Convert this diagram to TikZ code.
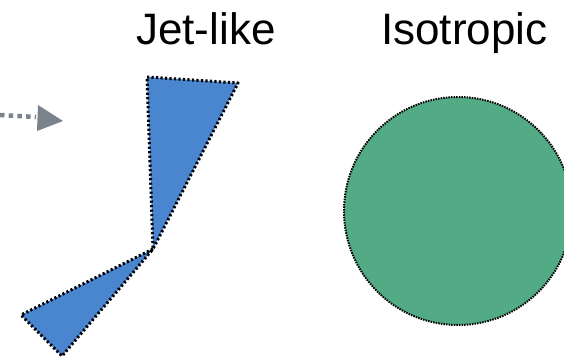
\documentclass[tikz,border=0pt]{standalone}
\usepackage{fontspec}
\setmainfont{Liberation Sans}
\definecolor{jetblue}{RGB}{74,134,208}
\definecolor{isogreen}{RGB}{83,171,133}
\definecolor{flowgray}{RGB}{122,130,140}
\begin{document}
\begin{tikzpicture}[x=1pt,y=-1pt,
  title/.style={inner sep=0pt,anchor=base west,font=\fontsize{44}{50}\selectfont},
  lobe/.style={fill=jetblue,draw=black,line width=3pt,dash pattern=on 2.2pt off 2.3pt,line join=round},
  shell/.style={circle,fill=isogreen,draw=black,line width=2pt,dash pattern=on 1.5pt off 1.1pt,inner sep=0pt,minimum size=228pt},
  flow/.style={draw=flowgray,line width=4.5pt,dash pattern=on 4.5pt off 4.2pt}]
\useasboundingbox (0,0) rectangle (564,361);
\clip (0,0) rectangle (564,361);

% titles
\node[title] (jet) at (136,45) {Jet-like};
\node[title] (iso) at (381,45) {Isotropic};

% incoming dotted arrow
\coordinate (fstart) at (0,115);
\coordinate (fend) at (36,117);
\coordinate (htop) at (38,105);
\coordinate (htip) at (63,121);
\coordinate (hbot) at (37,131);
\draw[flow] (fstart) -- (fend);
\fill[flowgray] (htop) -- (htip) -- (hbot) -- cycle;

% two-sided jet
\coordinate (core) at (153,249);
\draw[lobe] (147,77) -- (238,83) -- (core) -- cycle;
\draw[lobe] (core) -- (21,315) -- (62,356) -- cycle;

% isotropic outflow
\node[shell] (ball) at (458,211) {};
\end{tikzpicture}
\end{document}
